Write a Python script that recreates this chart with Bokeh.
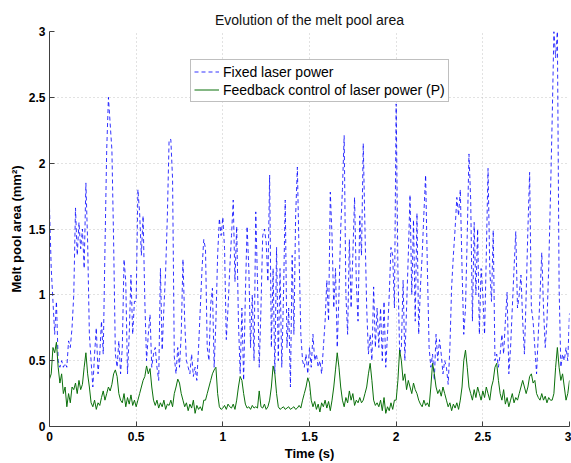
from bokeh.plotting import figure
from bokeh.models import Legend, LegendItem, FixedTicker
from bokeh.embed import file_html
from bokeh.resources import INLINE

# sampling period of both recordings (s)
sample_step = 0.01

# Melt pool area with fixed laser power (mm^2), one value every 0.01 s from 0 to 3 s
fixed_power = [
    1.66, 1.2, 0.95, 0.7, 0.95, 0.5, 0.45, 0.5, 0.45, 0.48,
    0.45, 0.65, 0.6, 0.75, 1.0, 1.66, 1.3, 1.55, 1.35, 1.5,
    1.2, 1.85, 1.4, 0.7, 0.5, 0.3, 0.55, 0.75, 0.4, 0.55,
    0.8, 0.55, 1.35, 2.1, 2.5, 2.3, 2.1, 1.4, 0.55, 0.45,
    0.65, 0.4, 0.6, 1.27, 1.1, 0.4, 0.7, 1.15, 0.7, 0.95,
    0.95, 1.8, 1.62, 1.3, 1.6, 0.95, 0.5, 0.7, 0.85, 0.45,
    0.55, 0.6, 0.45, 0.35, 1.2, 0.58, 0.9, 1.18, 1.6, 2.18,
    2.18, 1.88, 0.53, 0.4, 0.6, 0.45, 0.7, 1.27, 0.8, 0.5,
    0.45, 0.4, 0.55, 0.38, 0.45, 0.35, 0.6, 0.9, 1.2, 1.42,
    1.35, 0.6, 0.5, 0.93, 1.05, 0.45, 0.8, 1.3, 1.58, 1.45,
    1.59, 1.35, 0.66, 0.9, 1.2, 1.45, 1.72, 1.1, 1.52, 0.8,
    0.4, 0.9, 0.35, 1.0, 1.52, 1.2, 0.6, 1.0, 0.5, 1.63,
    1.1, 0.45, 0.9, 1.45, 1.5, 1.4, 1.1, 1.91, 0.6, 1.2,
    0.4, 1.36, 0.5, 1.2, 0.45, 1.0, 1.72, 0.6, 0.9, 0.3,
    1.3, 0.7, 1.6, 1.97, 1.3, 0.7, 0.5, 0.45, 0.55, 0.4,
    0.6, 0.45, 0.7, 0.5, 0.55, 0.45, 0.5, 0.4, 0.6, 0.8,
    1.11, 0.8, 1.78, 1.45, 0.9, 1.2, 0.6, 1.0, 1.5, 1.8,
    2.21, 1.0, 0.7, 1.42, 0.9, 1.3, 1.74, 1.1, 0.8, 1.6,
    1.3, 2.15, 1.5, 0.9, 0.55, 0.7, 0.5, 1.06, 0.6, 0.9,
    0.6, 0.9, 0.5, 0.95, 0.45, 0.7, 1.0, 1.36, 1.3, 0.9,
    2.45, 1.2, 0.55, 0.6, 1.11, 0.5, 0.9, 1.3, 1.76, 1.0,
    1.57, 0.8, 1.62, 0.7, 1.06, 1.3, 1.62, 1.91, 1.2, 0.6,
    0.45, 0.55, 0.35, 0.7, 0.5, 0.66, 0.55, 0.4, 0.5, 0.45,
    0.32, 0.6, 1.06, 1.3, 1.5, 1.74, 1.6, 1.8, 1.2, 0.7,
    0.9, 1.45, 2.07, 1.72, 0.8, 1.55, 1.0, 1.5, 0.7, 1.2,
    1.0, 0.7, 1.3, 1.96, 1.2, 0.95, 1.49, 0.5, 0.55, 0.45,
    0.55, 0.7, 0.55, 0.8, 1.02, 0.4, 0.6, 0.9, 1.2, 1.48,
    0.9, 1.0, 1.15, 0.8, 0.55, 1.0, 1.5, 1.93, 0.9, 0.8,
    0.6, 0.4, 0.7, 1.0, 1.32, 0.9, 0.6, 0.8, 1.2, 1.74,
    2.33, 3.0, 2.8, 3.0, 1.06, 0.45, 0.55, 0.5, 0.6, 0.5, 0.86,
]

# Melt pool area with feedback control of laser power (mm^2)
feedback_power = [
    0.36, 0.4, 0.6, 0.56, 0.64, 0.45, 0.33, 0.4, 0.25, 0.3,
    0.15, 0.25, 0.18, 0.3, 0.28, 0.33, 0.25, 0.35, 0.28, 0.32,
    0.45, 0.56, 0.4, 0.3, 0.18, 0.15, 0.2, 0.13, 0.18, 0.16,
    0.22, 0.27, 0.2, 0.25, 0.3, 0.27, 0.32, 0.4, 0.43, 0.38,
    0.25, 0.2, 0.18, 0.25, 0.15, 0.22, 0.17, 0.24, 0.16, 0.2,
    0.15, 0.2, 0.25, 0.3, 0.35, 0.38, 0.46, 0.4, 0.44, 0.3,
    0.2, 0.16, 0.2, 0.14, 0.18, 0.15, 0.2, 0.13, 0.17, 0.16,
    0.2, 0.15, 0.25, 0.3, 0.36, 0.33, 0.25, 0.2, 0.15, 0.18,
    0.12, 0.17, 0.14, 0.2, 0.1, 0.16, 0.13, 0.15, 0.12, 0.2,
    0.2, 0.25, 0.3, 0.35, 0.4, 0.43, 0.45, 0.25, 0.15, 0.13,
    0.14, 0.16, 0.13, 0.17, 0.15, 0.14, 0.17, 0.13, 0.2, 0.3,
    0.38, 0.35, 0.25, 0.17, 0.14, 0.15, 0.13, 0.16, 0.14, 0.15,
    0.14, 0.27, 0.15, 0.14, 0.17, 0.13, 0.15, 0.2, 0.3, 0.46,
    0.4, 0.25, 0.15, 0.13, 0.14, 0.15, 0.13, 0.14, 0.15, 0.13,
    0.14, 0.15, 0.13, 0.14, 0.16, 0.14, 0.2, 0.25, 0.3, 0.37,
    0.33, 0.2, 0.15, 0.19, 0.13, 0.17, 0.11, 0.18, 0.15, 0.2,
    0.14, 0.19, 0.12, 0.2, 0.3, 0.43, 0.56, 0.45, 0.3, 0.2,
    0.15, 0.22, 0.18, 0.27, 0.2, 0.25, 0.16, 0.2, 0.18, 0.22,
    0.18, 0.2, 0.25, 0.3, 0.4, 0.48, 0.35, 0.2, 0.16, 0.18,
    0.15, 0.2, 0.12, 0.22, 0.1, 0.15, 0.12, 0.18, 0.13, 0.2,
    0.2, 0.35, 0.58, 0.5, 0.35, 0.4, 0.28, 0.35, 0.3, 0.25,
    0.33, 0.28, 0.25, 0.2, 0.17, 0.15, 0.2, 0.16, 0.18, 0.15,
    0.3, 0.48, 0.4, 0.3, 0.25, 0.28, 0.23, 0.3, 0.25, 0.2,
    0.15, 0.18, 0.12, 0.17, 0.14, 0.18, 0.13, 0.2, 0.3, 0.5,
    0.58, 0.45, 0.3, 0.25, 0.2, 0.28, 0.22, 0.3, 0.25, 0.2,
    0.27, 0.22, 0.3, 0.25, 0.2, 0.3, 0.35, 0.45, 0.48, 0.35,
    0.25, 0.2, 0.28, 0.17, 0.22, 0.15, 0.2, 0.25, 0.18, 0.22,
    0.2, 0.25, 0.3, 0.35, 0.3, 0.25, 0.3, 0.38, 0.4, 0.33,
    0.35, 0.25, 0.22, 0.2, 0.25, 0.2, 0.23, 0.18, 0.22, 0.2,
    0.2, 0.25, 0.45, 0.6, 0.45, 0.35, 0.4, 0.3, 0.2, 0.25, 0.35,
]

time_s = [round(i * sample_step, 2) for i in range(len(fixed_power))]

x_ticks = [0, 0.5, 1, 1.5, 2, 2.5, 3]
x_tick_labels = ["0", "0.5", "1", "1.5", "2", "2.5", "3"]
y_ticks = [0, 0.5, 1, 1.5, 2, 2.5, 3]
y_tick_labels = ["0", "0.5", "1", "1.5", "2", "2.5", "3"]

FONT = "Liberation Sans"

p = figure(width=571, height=463, x_range=(0, 3), y_range=(0, 3),
           output_backend="svg", toolbar_location=None,
           min_border_left=49, min_border_right=2, min_border_top=31,
           min_border_bottom=36)

p.title.text = "Evolution of the melt pool area"
p.title.align = "center"
p.title.text_font = FONT
p.title.text_font_size = "14px"
p.title.text_font_style = "normal"
p.title.text_color = "#111111"
p.title.standoff = 7

r_fixed = p.line(time_s, fixed_power, line_color="#0000ff", line_width=1,
                 line_dash="4 3", line_alpha=0.8)
r_fb = p.line(time_s, feedback_power, line_color="#0b700b", line_width=1)

for ax, ticks, labels in ((p.xaxis[0], x_ticks, x_tick_labels),
                          (p.yaxis[0], y_ticks, y_tick_labels)):
    ax.ticker = FixedTicker(ticks=ticks)
    ax.major_label_overrides = {t: l for t, l in zip(ticks, labels)}
    ax.major_label_text_font = FONT
    ax.major_label_text_font_size = "12px"
    ax.major_label_text_font_style = "bold"
    ax.major_label_text_color = "black"
    ax.axis_label_text_font = FONT
    ax.axis_label_text_font_size = "13px"
    ax.axis_label_text_font_style = "bold"
    ax.axis_label_text_color = "black"
    ax.axis_line_color = "#404040"
    ax.major_tick_line_color = "#404040"
    ax.major_tick_in = 5
    ax.major_tick_out = 0
    ax.minor_tick_line_color = None
    ax.major_label_standoff = 4

p.xaxis.axis_label = "Time (s)"
p.yaxis.axis_label = "Melt pool area (mm²)"
p.xaxis.major_label_standoff = 5
p.xaxis.axis_label_standoff = 2
p.yaxis.axis_label_standoff = 2

p.xgrid.ticker = FixedTicker(ticks=x_ticks)
p.ygrid.ticker = FixedTicker(ticks=y_ticks)
for g in (p.xgrid[0], p.ygrid[0]):
    g.grid_line_color = "#c4c4c4"
    g.grid_line_dash = "1 3"
    g.grid_line_width = 1

p.outline_line_color = None
p.background_fill_color = "white"
p.border_fill_color = "white"

legend = Legend(items=[LegendItem(label="Fixed laser power", renderers=[r_fixed]),
                       LegendItem(label="Feedback control of laser power (P)", renderers=[r_fb])],
                location=(141, 324))
legend.label_text_font = FONT
legend.label_text_font_size = "14px"
legend.label_text_color = "black"
legend.glyph_width = 25
legend.glyph_height = 17
legend.label_height = 17
legend.label_standoff = 4
legend.padding = 3
legend.spacing = 1
legend.margin = 0
legend.border_line_color = "#7f7f7f"
legend.border_line_width = 1.5
legend.background_fill_alpha = 1
p.add_layout(legend)

open("out.html", "w").write(file_html(p, INLINE))
